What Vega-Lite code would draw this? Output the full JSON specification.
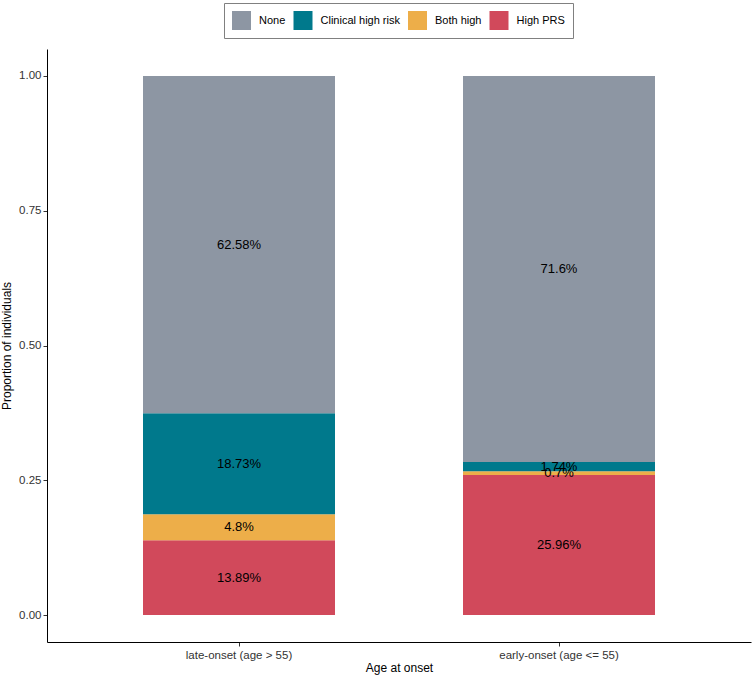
{
  "$schema": "https://vega.github.io/schema/vega-lite/v6.json",
  "width": 704,
  "height": 593,
  "autosize": {"type": "none"},
  "padding": {"left": 47, "top": 49, "right": 3, "bottom": 34},
  "background": "white",
  "data": {
    "values": [
      {"onset": "late-onset (age > 55)", "group": "High PRS", "pct": 13.89},
      {"onset": "late-onset (age > 55)", "group": "Both high", "pct": 4.8},
      {"onset": "late-onset (age > 55)", "group": "Clinical high risk", "pct": 18.73},
      {"onset": "late-onset (age > 55)", "group": "None", "pct": 62.58},
      {"onset": "early-onset (age <= 55)", "group": "High PRS", "pct": 25.96},
      {"onset": "early-onset (age <= 55)", "group": "Both high", "pct": 0.7},
      {"onset": "early-onset (age <= 55)", "group": "Clinical high risk", "pct": 1.74},
      {"onset": "early-onset (age <= 55)", "group": "None", "pct": 71.6}
    ]
  },
  "transform": [
    {"calculate": "indexof(['High PRS', 'Both high', 'Clinical high risk', 'None'], datum.group)", "as": "ord"},
    {"calculate": "datum.pct / 100", "as": "prop"},
    {"stack": "prop", "groupby": ["onset"], "sort": [{"field": "ord"}], "as": ["y0", "y1"]},
    {"calculate": "(datum.y0 + datum.y1) / 2", "as": "ymid"},
    {"calculate": "datum.pct + '%'", "as": "label"}
  ],
  "encoding": {
    "x": {
      "field": "onset",
      "type": "nominal",
      "sort": ["late-onset (age > 55)", "early-onset (age <= 55)"],
      "title": "Age at onset",
      "scale": {"paddingInner": 0.4, "paddingOuter": 0.3},
      "axis": {
        "labelAngle": 0,
        "domainColor": "black",
        "tickColor": "#333333",
        "tickSize": 4,
        "labelColor": "#333333",
        "labelFontSize": 11.5,
        "labelPadding": 3,
        "titleFontSize": 12,
        "titleFontWeight": "normal",
        "titleColor": "black",
        "titlePadding": 2
      }
    }
  },
  "layer": [
    {
      "mark": {"type": "bar"},
      "encoding": {
        "y": {
          "field": "y0",
          "type": "quantitative",
          "title": "Proportion of individuals",
          "scale": {"domain": [-0.05, 1.05], "nice": false, "zero": false},
          "axis": {
            "values": [0, 0.25, 0.5, 0.75, 1],
            "format": ".2f",
            "grid": false,
            "domainColor": "black",
            "tickColor": "#333333",
            "tickSize": 4,
            "labelColor": "#333333",
            "labelFontSize": 11.5,
            "labelPadding": 2,
            "titleFontSize": 12,
            "titleFontWeight": "normal",
            "titleColor": "black",
            "titlePadding": 5
          }
        },
        "y2": {"field": "y1"},
        "color": {
          "field": "group",
          "type": "nominal",
          "title": null,
          "scale": {
            "domain": ["None", "Clinical high risk", "Both high", "High PRS"],
            "range": ["#8d96a3", "#00798c", "#edae49", "#d1495b"]
          },
          "legend": {
            "orient": "none",
            "direction": "horizontal",
            "legendX": 177,
            "legendY": -46,
            "symbolType": "square",
            "symbolSize": 361,
            "symbolStrokeWidth": 0,
            "symbolOpacity": 1,
            "labelFontSize": 11,
            "labelColor": "black",
            "labelOffset": 8,
            "columnPadding": 7.5,
            "padding": 8,
            "strokeColor": "#808080",
            "fillColor": "white"
          }
        }
      }
    },
    {
      "mark": {"type": "text", "fontSize": 13, "color": "black"},
      "encoding": {
        "y": {"field": "ymid", "type": "quantitative"},
        "text": {"field": "label"}
      }
    }
  ],
  "config": {
    "font": "Liberation Sans",
    "view": {"stroke": null},
    "axis": {"grid": false}
  }
}
